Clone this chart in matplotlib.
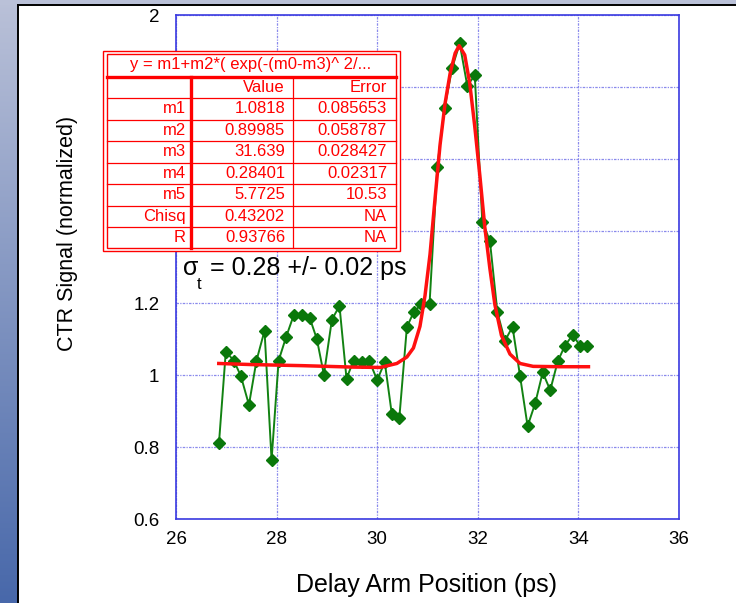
"""
CTR signal vs delay arm position, with gaussian fit table
"""

import numpy as np
import matplotlib
matplotlib.use("Agg")
import matplotlib.pyplot as plt
from matplotlib.patches import Rectangle

plt.rcParams["font.family"] = ["Liberation Sans", "DejaVu Sans"]

# measured points (green)
pos_ps = [26.855, 26.99, 27.15, 27.29, 27.45, 27.60, 27.76, 27.90, 28.04, 28.19,
          28.34, 28.50, 28.66, 28.80, 28.94, 29.10, 29.25, 29.39, 29.53, 29.69,
          29.84, 30.00, 30.15, 30.29, 30.44, 30.59, 30.73, 30.88, 31.04, 31.195,
          31.34, 31.49, 31.64, 31.79, 31.94, 32.09, 32.24, 32.39, 32.54, 32.69,
          32.84, 32.99, 33.14, 33.29, 33.44, 33.59, 33.73, 33.89, 34.03, 34.18]
ctr_signal = [0.812, 1.065, 1.040, 0.997, 0.917, 1.040, 1.123, 0.764, 1.040, 1.106,
              1.166, 1.166, 1.158, 1.100, 1.001, 1.154, 1.192, 0.990, 1.040, 1.035,
              1.040, 0.986, 1.036, 0.892, 0.881, 1.133, 1.176, 1.196, 1.196, 1.579,
              1.742, 1.853, 1.921, 1.804, 1.832, 1.425, 1.373, 1.174, 1.095, 1.134,
              0.997, 0.858, 0.921, 1.007, 0.958, 1.038, 1.081, 1.112, 1.081, 1.081]

# fit curve (red)
fit_x = [26.85, 27.5, 28.5, 29.5, 30.06, 30.39, 30.59, 30.72, 30.85, 30.95,
         31.05, 31.15, 31.25, 31.35, 31.45, 31.55, 31.63, 31.74, 31.84, 31.94,
         32.04, 32.14, 32.24, 32.34, 32.47, 32.64, 32.84, 33.10, 33.63, 34.20]
fit_y = [1.032, 1.029, 1.026, 1.022, 1.021, 1.032, 1.050, 1.075, 1.135, 1.22,
         1.335, 1.49, 1.64, 1.755, 1.838, 1.894, 1.915, 1.889, 1.81, 1.69,
         1.555, 1.41, 1.296, 1.195, 1.11, 1.058, 1.032, 1.024, 1.023, 1.023]

x_ticks = [26, 28, 30, 32, 34, 36]
y_ticks = [0.6, 0.8, 1.0, 1.2, 1.4, 1.6, 1.8, 2.0]
y_tick_labels = ["0.6", "0.8", "1", "1.2", "1.4", "1.6", "1.8", "2"]

# fit table
fit_title = "y = m1+m2*( exp(-(m0-m3)^ 2/..."
param_names = ["m1", "m2", "m3", "m4", "m5", "Chisq", "R"]
param_values = ["1.0818", "0.89985", "31.639", "0.28401", "5.7725", "0.43202", "0.93766"]
param_errors = ["0.085653", "0.058787", "0.028427", "0.02317", "10.53", "NA", "NA"]

W, H = 736, 603
fig = plt.figure(figsize=(W / 100, H / 100), dpi=100)

"""
Slide background
"""
bg = fig.add_axes([0, 0, 1, 1], zorder=0)
bg.set_xlim(0, W)
bg.set_ylim(H, 0)
bg.axis("off")
top_col = np.array([186, 193, 216]) / 255
bot_col = np.array([72, 104, 170]) / 255
t = np.linspace(0, 1, 256)[:, None, None]
grad = top_col * (1 - t) + bot_col * t
bg.imshow(grad, extent=[0, 17.5, H, 0], aspect="auto")
bg.add_patch(Rectangle((0, 0), W, 5, color=top_col, lw=0))
bg.plot([17.5, 17.5], [5, H], color="black", lw=1.4)
bg.plot([17.5, W], [5, 5], color="black", lw=1.4)

"""
Main plot
"""
ax = fig.add_axes([176 / W, 1 - 519 / H, 503 / W, 504 / H], zorder=1)
blue = "#3a3ae0"
ax.plot(pos_ps, ctr_signal, color="#128212", lw=1.4, marker="D", ms=5.8,
        mfc="#0a780a", mec="#0a780a", zorder=3)
ax.plot(fit_x, fit_y, color="#ff1010", lw=2.5, zorder=4)

ax.set_xlim(26, 36)
ax.set_ylim(0.6, 2.0)
ax.set_xticks(x_ticks)
ax.set_yticks(y_ticks)
ax.set_yticklabels(y_tick_labels)
ax.tick_params(length=0, labelsize=13.5, colors="black")
ax.tick_params(axis="y", pad=12)
ax.tick_params(axis="x", pad=9)
for s in ax.spines.values():
    s.set_color(blue)
    s.set_linewidth(1.2)
ax.grid(True, color="#8a8aec", lw=0.9, linestyle=(0, (2, 1, 1, 1)))
ax.set_axisbelow(True)

fig.text(427 / W, 1 - 585 / H, "Delay Arm Position (ps)", fontsize=18,
         ha="center", va="center")
fig.text(67 / W, 1 - 233 / H, "CTR Signal (normalized)", fontsize=15.5,
         ha="center", va="center", rotation=90)

"""
Table and sigma text
"""
ov = fig.add_axes([0, 0, 1, 1], zorder=3)
ov.set_xlim(0, W)
ov.set_ylim(H, 0)
ov.axis("off")
ov.patch.set_alpha(0)

red = "#ff0000"
ov.add_patch(Rectangle((102.5, 50.5), 297, 200, fc="white", ec=red, lw=1))
ov.add_patch(Rectangle((106.5, 53.5), 289.5, 194, fc="none", ec=red, lw=1))
ov.plot([106.5, 396], [76.5, 76.5], color=red, lw=2.4)
row_lines = [98, 119.5, 141, 162.5, 184, 205.5, 227]
for yl in row_lines:
    ov.plot([106.5, 396], [yl, yl], color=red, lw=0.9)
ov.plot([190.7, 190.7], [76.5, 247.5], color=red, lw=2.4)
ov.plot([292.7, 292.7], [76.5, 247.5], color=red, lw=0.9)

tfs = 12
ov.text(251, 64.5, fit_title, color=red, fontsize=tfs, ha="center", va="center")
ov.text(285, 87.5, "Value", color=red, fontsize=tfs, ha="right", va="center")
ov.text(387, 87.5, "Error", color=red, fontsize=tfs, ha="right", va="center")
edges = row_lines + [247.5]
for i, name in enumerate(param_names):
    yc = (edges[i] + edges[i + 1]) / 2
    ov.text(186, yc, name, color=red, fontsize=tfs, ha="right", va="center")
    ov.text(285, yc, param_values[i], color=red, fontsize=tfs, ha="right", va="center")
    ov.text(387, yc, param_errors[i], color=red, fontsize=tfs, ha="right", va="center")

ov.text(183, 275, "σ", fontsize=18, ha="left", va="baseline")
ov.text(197, 289, "t", fontsize=12, ha="left", va="baseline")
ov.text(210, 275, "= 0.28 +/- 0.02 ps", fontsize=18, ha="left", va="baseline")

fig.savefig("out.png", dpi=100)
